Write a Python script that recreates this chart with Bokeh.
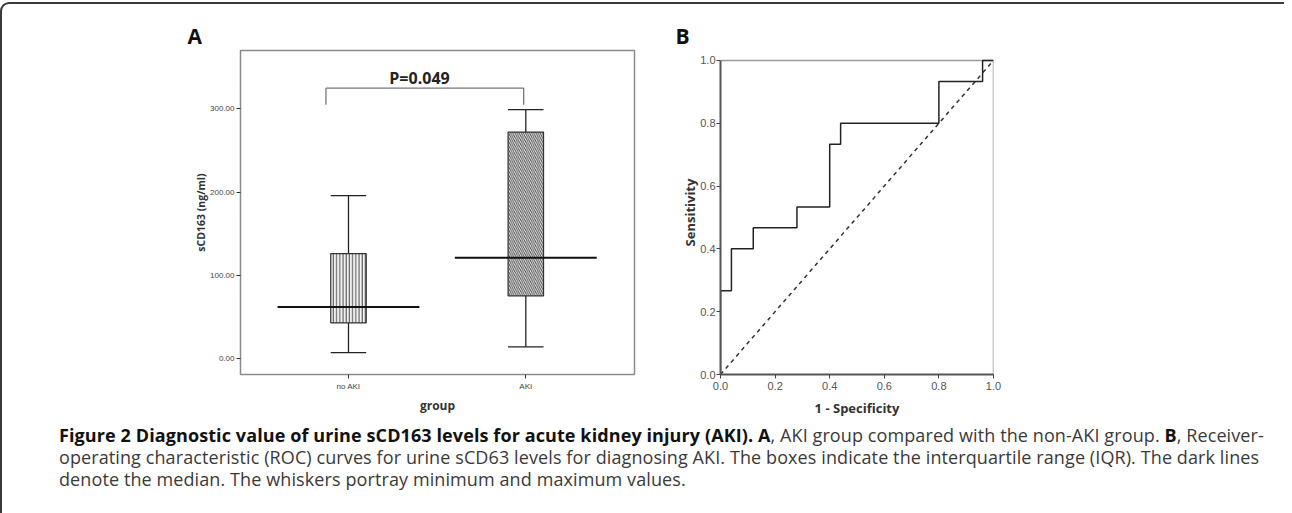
from bokeh.plotting import figure
from bokeh.models import (Range1d, FixedTicker, NumeralTickFormatter, Label,
                          Div, Spacer, ColumnDataSource)
from bokeh.layouts import row, column
from bokeh.transform import dodge
from bokeh.embed import file_html
from bokeh.resources import INLINE

# ---------------- Panel A data (box plot) ----------------
groups = ["no AKI", "AKI"]
box_min = [7.2, 14.3]
box_q1 = [42.9, 75.5]
box_median = [62.0, 121.2]
box_q3 = [126.3, 272.2]
box_max = [195.9, 299.2]
box_hatch = ["|", "\\"]
a_y_ticks = [0, 100, 200, 300]
p_label = "P=0.049"
bracket_low = 305
bracket_high = 325

# ---------------- Panel B data (ROC curve) ----------------
roc_fpr = [0, 0, 0.04, 0.04, 0.12, 0.12, 0.28, 0.28, 0.40, 0.40, 0.44, 0.44,
           0.80, 0.80, 0.96, 0.96, 1.0]
roc_tpr = [0, 0.267, 0.267, 0.400, 0.400, 0.467, 0.467, 0.533, 0.533, 0.733,
           0.733, 0.800, 0.800, 0.933, 0.933, 1.0, 1.0]
chance_line = [0, 1]
b_ticks = [0.0, 0.2, 0.4, 0.6, 0.8, 1.0]

caption_lines = [
    "<b style='color:#111'>Figure 2 Diagnostic value of urine sCD163 levels for acute kidney injury (AKI). A</b>, "
    "AKI group compared with the non-AKI group. <b style='color:#111'>B</b>, Receiver-",
    "operating characteristic (ROC) curves for urine sCD63 levels for diagnosing AKI. "
    "The boxes indicate the interquartile range (IQR). The dark lines",
    "denote the median. The whiskers portray minimum and maximum values.",
]

# both panels share the same top/bottom borders (Bokeh aligns frames in a row)
BORDER_TOP = 46
BORDER_BOTTOM = 42
FIG_H = 415

# ---------------- Panel A ----------------
xs = list(range(len(groups)))
pa = figure(width=520, height=FIG_H, title="A",
            x_range=Range1d(-0.609, 1.613), y_range=Range1d(-19.0, 370.2),
            output_backend="svg", toolbar_location=None,
            min_border_left=98, min_border_right=28,
            min_border_top=BORDER_TOP, min_border_bottom=BORDER_BOTTOM)
pa.title.text_font = "Open Sans"
pa.title.text_font_style = "bold"
pa.title.text_font_size = "21px"
pa.title.text_color = "#111111"
pa.title.align = "left"
pa.title.offset = -53
pa.title.standoff = 1
pa.grid.visible = False
pa.outline_line_color = "#8a8a8a"
pa.outline_line_width = 1.5
for ax in (pa.xaxis[0], pa.yaxis[0]):
    ax.axis_line_color = None
    ax.major_tick_line_color = "#333333"
    ax.major_tick_out = 4
    ax.major_tick_in = 0
    ax.minor_tick_line_color = None
    ax.major_label_text_font = "Liberation Sans"
    ax.major_label_text_font_size = "8px"
    ax.major_label_text_color = "#444444"
    ax.major_label_standoff = 2
    ax.axis_label_text_font = "Open Sans"
    ax.axis_label_text_font_style = "bold"
    ax.axis_label_text_color = "#333333"
pa.xaxis.ticker = FixedTicker(ticks=xs)
pa.xaxis.major_label_overrides = {i: g for i, g in zip(xs, groups)}
pa.xaxis.major_label_standoff = 3
pa.yaxis.ticker = FixedTicker(ticks=a_y_ticks)
pa.yaxis.formatter = NumeralTickFormatter(format="0.00")
pa.xaxis.axis_label = "group"
pa.xaxis.axis_label_text_font_size = "12px"
pa.xaxis.axis_label_standoff = 3
pa.yaxis.axis_label = "sCD163 (ng/ml)"
pa.yaxis.axis_label_text_font_size = "10.5px"
pa.yaxis.axis_label_standoff = -1

src = ColumnDataSource(dict(x=xs, lo=box_min, q1=box_q1, med=box_median,
                            q3=box_q3, hi=box_max))
box_hw = 0.1
cap_hw = 0.1
med_hw = 0.4
# whiskers
pa.segment(x0="x", y0="q3", x1="x", y1="hi", source=src, line_color="#222222", line_width=1.3)
pa.segment(x0="x", y0="lo", x1="x", y1="q1", source=src, line_color="#222222", line_width=1.3)
# caps
pa.segment(x0=dodge("x", -cap_hw), y0="hi", x1=dodge("x", cap_hw), y1="hi", source=src,
           line_color="#222222", line_width=1.3)
pa.segment(x0=dodge("x", -cap_hw), y0="lo", x1=dodge("x", cap_hw), y1="lo", source=src,
           line_color="#222222", line_width=1.3)
# boxes (one per group, each with its own hatch)
hatch_scales = [3.2, 4.2]
for i in xs:
    pa.quad(left=[xs[i] - box_hw], right=[xs[i] + box_hw],
            bottom=[box_q1[i]], top=[box_q3[i]],
            fill_color="#f2f2f2", line_color="#333333", line_width=1.2,
            hatch_pattern=box_hatch[i], hatch_color="#4a4a4a",
            hatch_scale=hatch_scales[i], hatch_weight=1.0)
# medians
pa.segment(x0=dodge("x", -med_hw), y0="med", x1=dodge("x", med_hw), y1="med", source=src,
           line_color="#111111", line_width=2)

# significance bracket
bx0 = xs[0] - 0.127
bx1 = xs[1] - 0.012
pa.line(x=[bx0, bx0, bx1, bx1], y=[bracket_low, bracket_high, bracket_high, bracket_low],
        line_color="#777777", line_width=1.3)
pa.add_layout(Label(x=(bx0 + bx1) / 2 - 0.03, y=bracket_high + 12, text=p_label,
                    text_font="Open Sans", text_font_style="bold", text_font_size="16px",
                    text_align="center", text_baseline="middle", text_color="#222222"))

# ---------------- Panel B ----------------
# the ROC frame starts ~10px below panel A's frame: extend the y range a little
# above 1.0 and draw the 0..1 box explicitly.
b_top_pad = 10 / 317.0
pb = figure(width=460, height=FIG_H, title="B",
            x_range=Range1d(0, 1), y_range=Range1d(0, 1 + b_top_pad),
            output_backend="svg", toolbar_location=None,
            min_border_left=58, min_border_right=129,
            min_border_top=BORDER_TOP, min_border_bottom=BORDER_BOTTOM)
pb.title.text_font = "Open Sans"
pb.title.text_font_style = "bold"
pb.title.text_font_size = "21px"
pb.title.text_color = "#111111"
pb.title.align = "left"
pb.title.offset = -45
pb.title.standoff = 1
pb.grid.visible = False
pb.outline_line_color = None
for ax in (pb.xaxis[0], pb.yaxis[0]):
    ax.axis_line_color = "#555555"
    ax.axis_line_width = 2
    ax.major_tick_line_color = "#444444"
    ax.major_tick_out = 4
    ax.major_tick_in = 0
    ax.minor_tick_line_color = None
    ax.ticker = FixedTicker(ticks=b_ticks)
    ax.formatter = NumeralTickFormatter(format="0.0")
    ax.major_label_text_font = "Liberation Sans"
    ax.major_label_text_font_size = "11px"
    ax.major_label_text_color = "#555555"
    ax.major_label_standoff = 3
    ax.axis_label_text_font = "Open Sans"
    ax.axis_label_text_font_style = "bold"
    ax.axis_label_text_font_size = "13px"
    ax.axis_label_text_color = "#333333"
pb.yaxis.bounds = (0, 1)
pb.yaxis.major_label_standoff = 1
pb.xaxis.axis_label = "1 - Specificity"
pb.xaxis.axis_label_standoff = 6
pb.yaxis.axis_label = "Sensitivity"
pb.yaxis.axis_label_standoff = -2

# grey frame: top and right edges of the unit square
pb.line(x=[0, 1, 1], y=[1, 1, 0], line_color="#9a9a9a", line_width=1.5)
pb.line(x=chance_line, y=chance_line, line_color="#333333", line_width=1.5, line_dash="4 4")
pb.line(x=roc_fpr, y=roc_tpr, line_color="#222222", line_width=1.5)

# ---------------- Caption ----------------
cap_html = ("<div style=\"font-family:'Open Sans';font-size:18px;line-height:22px;"
            "letter-spacing:0.1px;color:#3a3a3a;white-space:nowrap;padding-left:52px;\">"
            + "<br>".join(caption_lines) + "</div>")
cap = Div(text=cap_html, width=1270, height=76)

top = row(Spacer(width=140, height=FIG_H), pa, pb)
page = column(top, cap, width=1284, height=515,
              styles={"border": "2px solid #3a3a3a", "border-bottom": "none",
                      "border-right": "none",
                      "border-radius": "9px 0 0 0", "margin-top": "2px",
                      "margin-bottom": "-30px", "box-sizing": "border-box"})

open("out.html", "w").write(file_html(page, INLINE))
